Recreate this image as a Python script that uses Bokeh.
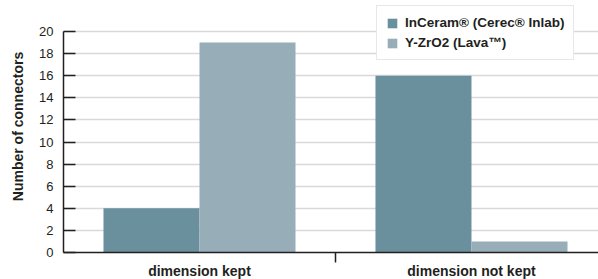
from bokeh.plotting import figure
from bokeh.models import ColumnDataSource, FixedTicker, Legend, LegendItem, Range1d
from bokeh.transform import dodge
from bokeh.embed import file_html
from bokeh.resources import INLINE

categories = ["dimension kept", "dimension not kept"]
cat_pos = [0.5, 1.5]
inceram = [4, 16]
yzro2 = [19, 1]
series_names = ["InCeram\u00ae (Cerec\u00ae Inlab)", "Y-ZrO2 (Lava\u2122)"]
y_ticks = list(range(0, 21, 2))

FONT = "Liberation Sans"
TXT = "#231f20"
DARK = "#6a909e"
LIGHT = "#97adb8"

src = ColumnDataSource(dict(x=cat_pos, a=inceram, b=yzro2))

# frame spans from the window top to the x axis; the y axis itself is bounded to 0..20
Y_TOP = 20 * 252 / 221
p = figure(frame_width=535, frame_height=252, output_backend="svg", toolbar_location=None,
           x_range=Range1d(0, 1.967), y_range=Range1d(0, Y_TOP),
           min_border_left=63, min_border_right=0, min_border_top=0, min_border_bottom=20)
p.outline_line_color = None

w = 0.353
r1 = p.vbar(x=dodge("x", -w / 2, range=p.x_range), top="a", width=w, source=src,
            fill_color=DARK, line_color=None)
r2 = p.vbar(x=dodge("x", w / 2, range=p.x_range), top="b", width=w, source=src,
            fill_color=LIGHT, line_color=None)

# y axis
ya = p.yaxis[0]
ya.bounds = (0, 20)
ya.ticker = FixedTicker(ticks=y_ticks)
ya.major_tick_in = 12
ya.major_tick_out = 0
ya.minor_tick_line_color = None
ya.axis_line_color = TXT
ya.axis_line_width = 1.5
ya.major_tick_line_color = TXT
ya.major_tick_line_width = 1.5
ya.major_label_text_font = FONT
ya.major_label_text_font_size = "13px"
ya.major_label_text_color = TXT
ya.major_label_standoff = 10
ya.axis_label = "Number of connectors"
ya.axis_label_text_font = FONT
ya.axis_label_text_font_style = "bold"
ya.axis_label_text_font_size = "14px"
ya.axis_label_text_color = TXT
ya.axis_label_standoff = 10

# x axis
xa = p.xaxis[0]
xa.ticker = FixedTicker(ticks=cat_pos, minor_ticks=[1.0])
xa.major_label_overrides = {0.5: categories[0], 1.5: categories[1]}
xa.major_tick_line_color = None
xa.major_tick_in = 0
xa.major_tick_out = 0
xa.minor_tick_in = 0
xa.minor_tick_out = 10
xa.minor_tick_line_color = TXT
xa.minor_tick_line_width = 1.5
xa.axis_line_color = TXT
xa.axis_line_width = 1.5
xa.major_label_text_font = FONT
xa.major_label_text_font_style = "bold"
xa.major_label_text_font_size = "14px"
xa.major_label_text_color = TXT
xa.major_label_standoff = 0

p.xgrid.grid_line_color = None
p.ygrid.ticker = FixedTicker(ticks=y_ticks)
p.ygrid.grid_line_color = "#d9d9d9"
p.ygrid.grid_line_width = 1.5

legend = Legend(items=[LegendItem(label=series_names[0], renderers=[r1]),
                       LegendItem(label=series_names[1], renderers=[r2])],
                location=(313, 192), orientation="vertical")
legend.label_text_font = FONT
legend.label_text_font_style = "bold"
legend.label_text_font_size = "13.5px"
legend.label_text_color = TXT
legend.border_line_color = "#d0d0d0"
legend.border_line_width = 1.5
legend.background_fill_color = "white"
legend.background_fill_alpha = 1
legend.glyph_width = 12
legend.glyph_height = 12
legend.label_height = 14
legend.spacing = 5
legend.padding = 9
legend.margin = 0
legend.label_standoff = 7
p.add_layout(legend, "center")

html = file_html(p, INLINE)
html = html.replace("<head>", "<head><style>html, body { overflow: hidden; }</style>", 1)
open("out.html", "w").write(html)
